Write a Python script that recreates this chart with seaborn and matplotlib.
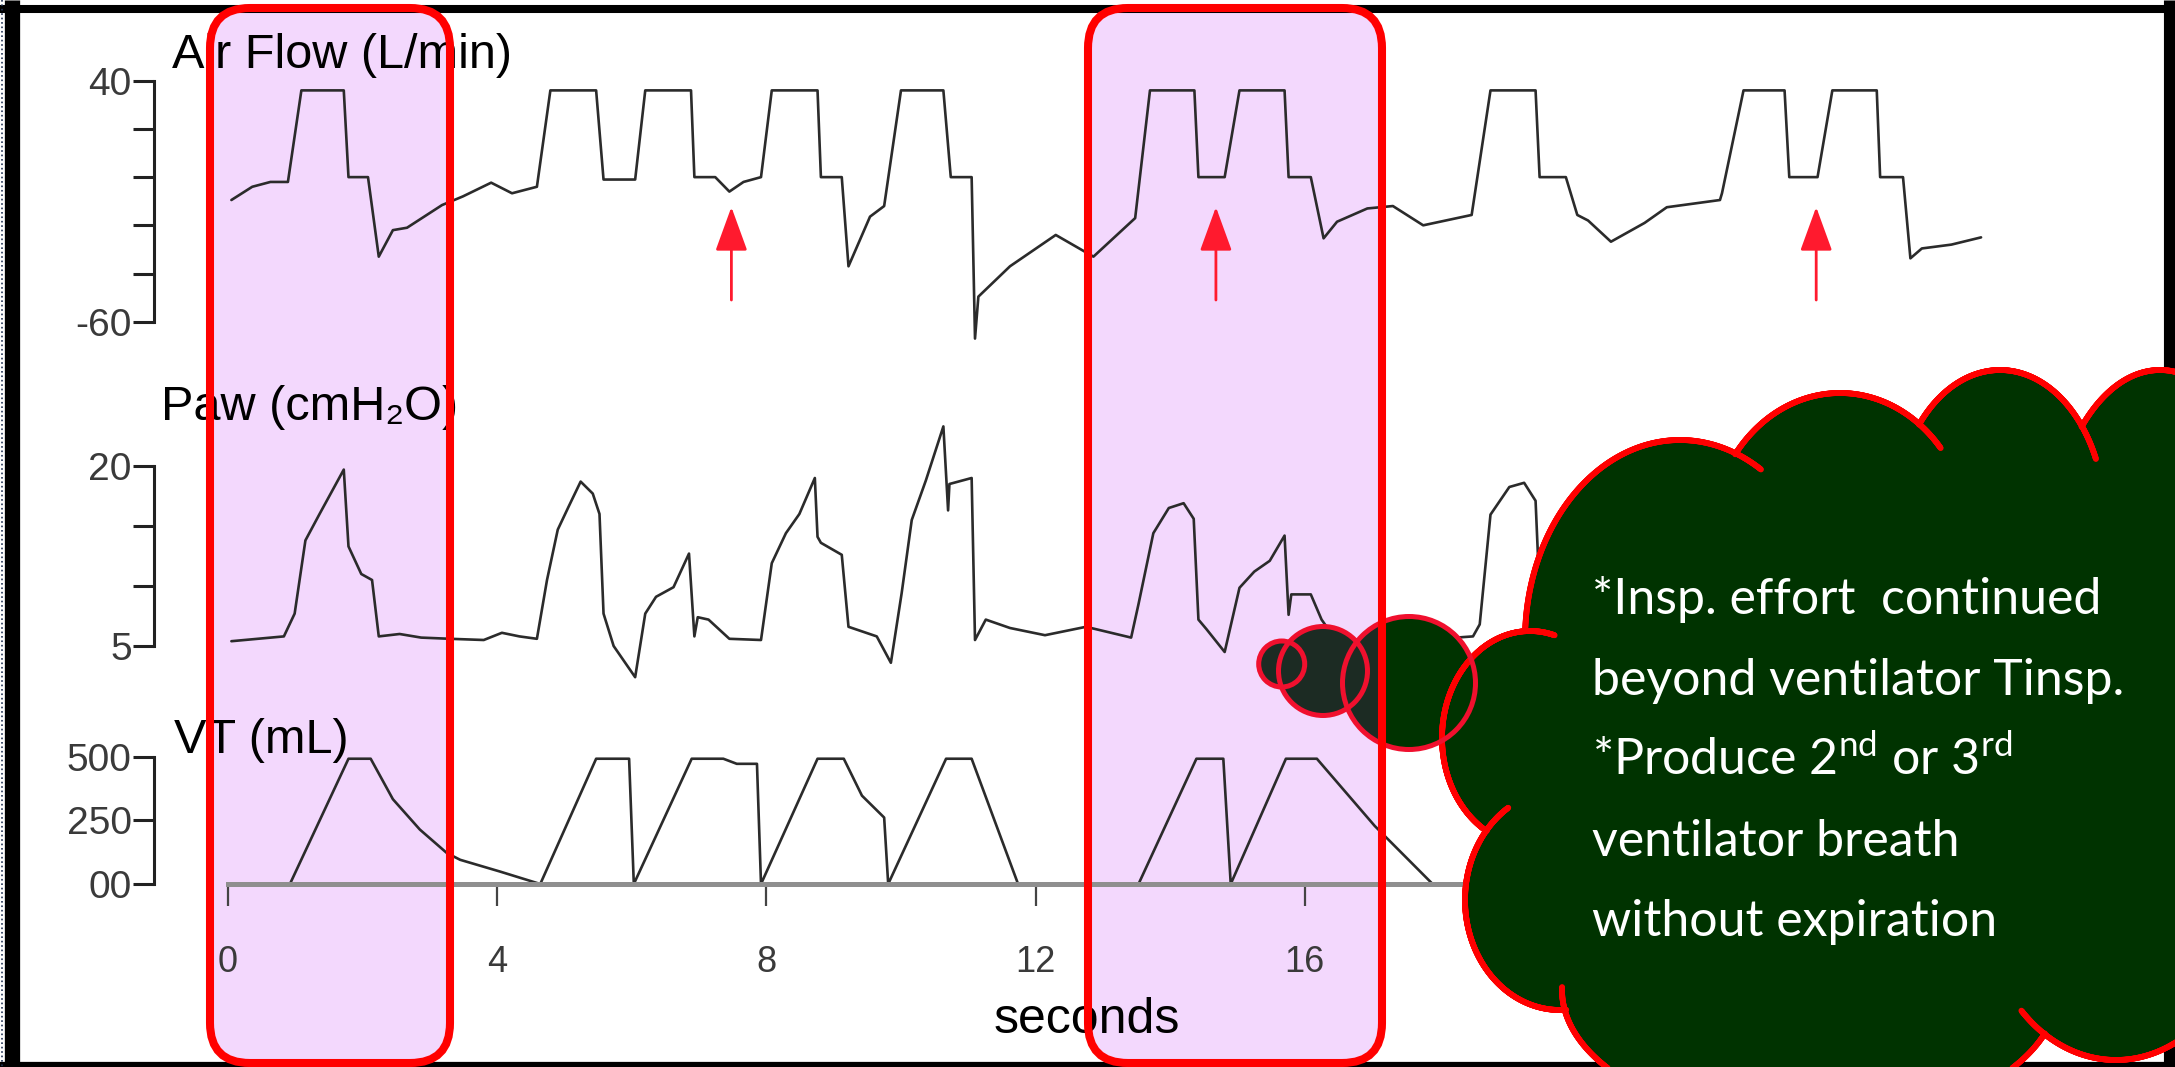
import numpy as np
import matplotlib
matplotlib.use("Agg")
import matplotlib.pyplot as plt
import seaborn as sns
from matplotlib.patches import Ellipse, FancyBboxPatch
from matplotlib.collections import LineCollection

# ventilator waveforms (time in seconds)
flow_t = [0.05, 0.36, 0.63, 0.89, 1.09, 1.72, 1.79, 2.08, 2.24, 2.45, 2.66, 3.18, 3.49, 3.91,
          4.22, 4.59, 4.79, 5.47, 5.58, 6.05, 6.2, 6.88, 6.93, 7.24, 7.45, 7.66, 7.92, 8.08,
          8.76, 8.81, 9.12, 9.22, 9.54, 9.75, 10.0, 10.63, 10.74, 11.05, 11.1, 11.15, 11.62,
          12.3, 12.86, 13.48, 13.7, 14.36, 14.42, 14.81, 15.03, 15.7, 15.76, 16.09, 16.28,
          16.48, 16.93, 17.31, 17.76, 18.48, 18.76, 19.43, 19.49, 19.88, 20.05, 20.21, 20.55,
          21.05, 21.38, 22.17, 22.2, 22.52, 23.13, 23.2, 23.62, 23.84, 24.5, 24.55, 24.89,
          25.0, 25.17, 25.61, 26.05]
flow_v = [-9.5, -4, -2, -2, 36, 36, 0, 0, -33, -22, -21, -11.6, -8, -2.3,
          -6.7, -4, 36, 36, -1, -1, 36, 36, 0, 0, -6, -2, 0, 36,
          36, 0, 0, -37, -16.4, -12, 36, 36, 0, 0, -67, -49.6, -37,
          -24, -33, -17, 36, 36, 0, 0, 36, 36, 0, 0, -25.4,
          -18.5, -13, -12, -20, -15.7, 36, 36, 0, 0, -15.7, -18, -26.8,
          -19, -12.5, -9.5, -6.7, 36, 36, 0, 0, 36, 36, 0, 0,
          -33.7, -29.6, -28, -25]

paw_t = [0.05, 0.83, 0.99, 1.15, 1.36, 1.72, 1.79, 1.98, 2.14, 2.24, 2.55, 2.87, 3.3, 3.8,
         4.07, 4.33, 4.59, 4.74, 4.9, 5.06, 5.24, 5.42, 5.52, 5.58, 5.73, 6.05, 6.2, 6.36,
         6.62, 6.85, 6.93, 6.98, 7.14, 7.45, 7.92, 8.08, 8.29, 8.49, 8.72, 8.76, 8.81, 9.12,
         9.22, 9.64, 9.85, 10.01, 10.16, 10.37, 10.63, 10.7, 10.72, 11.05, 11.1, 11.26,
         11.62, 12.14, 12.75, 13.42, 13.53, 13.75, 13.98, 14.2, 14.35, 14.42, 14.54, 14.81,
         15.03, 15.25, 15.48, 15.7, 15.76, 15.8, 16.09, 16.25, 16.4, 16.6, 17.0, 17.5, 18.0,
         18.5, 18.6, 18.76, 19.04, 19.26, 19.43, 19.5, 19.9, 20.5, 21.5, 22.2, 22.5, 22.9,
         23.2, 23.3, 23.6, 23.9, 24.4, 24.6, 25.0, 26.0]
paw_v = [5.4, 5.8, 7.7, 13.8, 16, 19.7, 13.3, 11, 10.5, 5.8, 6, 5.7, 5.6, 5.5,
         6.1, 5.8, 5.6, 10.5, 14.7, 16.6, 18.7, 17.7, 16, 7.7, 5, 2.4, 7.7, 9.1,
         9.9, 12.7, 5.8, 7.4, 7.2, 5.6, 5.5, 11.9, 14.4, 16, 19, 14.1, 13.6, 12.6,
         6.6, 5.8, 3.6, 9.4, 15.5, 18.8, 23.3, 16.3, 18.5, 19, 5.5, 7.2,
         6.5, 5.9, 6.6, 5.7, 8.5, 14.4, 16.5, 16.9, 15.6, 7.2, 6.4, 4.5,
         9.85, 11.2, 12.1, 14.2, 7.6, 9.3, 9.3, 7.2, 6.0, 5.5, 5.6, 5.8, 5.6,
         5.8, 6.8, 15.95, 18.25, 18.6, 17.1, 8, 6, 5.5, 5.8, 6, 12, 17,
         14, 8, 9, 15, 17, 7, 5.5, 5.6]

vt_t = [0.04, 0.92, 1.79, 2.12, 2.45, 2.85, 3.25, 3.45, 4.04, 4.64, 5.47, 5.96, 6.03, 6.89,
        7.36, 7.56, 7.86, 7.92, 8.76, 9.15, 9.42, 9.75, 9.81, 10.67, 11.05, 11.74, 13.53,
        14.39, 14.79, 14.9, 15.72, 16.18, 17.04, 17.9, 18.7, 19.45, 19.9, 21.0, 22.5, 23.15,
        23.6, 24.5, 24.9, 26.0]
vt_v = [0, 0, 492, 492, 333, 214, 122, 95, 49, 0, 492, 492, 0, 492,
        492, 472, 472, 0, 492, 492, 347, 261, 0, 492, 492, 0, 0,
        492, 492, 0, 492, 492, 228, 0, 0, 492, 492, 0, 0, 492,
        0, 492, 492, 100]

arrow_t = [7.48, 14.68, 23.6]

flow_ticks = [40, 20, 0, -20, -40, -60]
flow_labels = ['40', '', '', '', '', '-60']
paw_ticks = [20, 15, 10, 5]
paw_labels = ['20', '', '', '5']
vt_ticks = [500, 250, 0]
vt_labels = ['500', '250', '00']
x_ticks = [0, 4, 8, 12, 16, 20, 24]

note_lines = ["*Insp. effort  continued",
              "beyond ventilator Tinsp.",
              r"*Produce 2$^{\mathrm{nd}}$ or 3$^{\mathrm{rd}}$",
              "ventilator breath",
              "without expiration"]

sns.set_theme(style='white')
plt.rcParams['font.family'] = ['Liberation Sans', 'DejaVu Sans']
plt.rcParams['mathtext.fontset'] = 'custom'
plt.rcParams['mathtext.rm'] = 'Lato'

W, H = 2175, 1067
fig = plt.figure(figsize=(W / 100, H / 100), dpi=100)


def box(x0, y0, x1, y1):
    # pixel box (origin top-left) -> figure fraction rect
    return [x0 / W, 1 - y1 / H, (x1 - x0) / W, (y1 - y0) / H]


# background layer: highlighted windows
bg = fig.add_axes([0, 0, 1, 1], zorder=0)
bg.set_xlim(0, W)
bg.set_ylim(H, 0)
bg.axis('off')
windows = [(210, 450), (1088, 1382)]
for x0, x1 in windows:
    bg.add_patch(FancyBboxPatch((x0, 8), x1 - x0, 1055,
                                boxstyle='round,pad=0,rounding_size=40',
                                fc='#F3D8FD', ec='none'))

trace_kw = dict(color='#2b2b2b', linewidth=1.9, estimator=None, sort=False)
tick_color = '#3a3a3a'

ax1 = fig.add_axes(box(154, 68.7, 2045, 345.8), zorder=1)
ax2 = fig.add_axes(box(154, 418, 2045, 682), zorder=1)
ax3 = fig.add_axes(box(154, 751.6, 2045, 884), zorder=1)

sns.lineplot(x=flow_t, y=flow_v, ax=ax1, **trace_kw)
sns.lineplot(x=paw_t, y=paw_v, ax=ax2, **trace_kw)
sns.lineplot(x=vt_t, y=vt_v, ax=ax3, **trace_kw)

for ax, lim, ticks, labels in [(ax1, (-70, 45), flow_ticks, flow_labels),
                                (ax2, (2, 24), paw_ticks, paw_labels),
                                (ax3, (0, 520), vt_ticks, vt_labels)]:
    ax.set_facecolor('none')
    ax.set_xlim(-1.1, 27.0)
    ax.set_ylim(*lim)
    ax.set_yticks(ticks)
    ax.set_yticklabels(labels)
    ax.set_xlabel('')
    ax.set_ylabel('')
    for s in ['top', 'right']:
        ax.spines[s].set_visible(False)
    ax.spines['left'].set_bounds(min(ticks), max(ticks))
    ax.spines['left'].set_linewidth(2.2)
    ax.spines['left'].set_color('#222222')
    ax.tick_params(axis='y', direction='out', length=15, width=2.2, color='#222222',
                   pad=1, labelsize=28, labelcolor=tick_color, left=True)

for ax in (ax1, ax2):
    ax.spines['bottom'].set_visible(False)
    ax.tick_params(axis='x', bottom=False, labelbottom=False)

ax3.spines['bottom'].set_bounds(0, 26.2)
ax3.spines['bottom'].set_linewidth(3.6)
ax3.spines['bottom'].set_color('#8f8f8f')
ax3.set_xticks(x_ticks)
ax3.set_xticklabels([str(v) for v in x_ticks])
ax3.tick_params(axis='x', direction='out', length=16, width=1.6, color='#444444',
                pad=28, labelsize=26, labelcolor=tick_color, bottom=True)

for t in arrow_t:
    ax1.annotate('', xy=(t, -12.4), xytext=(t, -51),
                 arrowprops=dict(arrowstyle='-|>,head_length=0.55,head_width=0.2',
                                 mutation_scale=50, color='#FF1A2E', lw=2.0,
                                 shrinkA=0, shrinkB=0))

fig.text(172 / W, 1 - 68 / H, 'Air Flow (L/min)', fontsize=35, va='baseline', color='black')
fig.text(161 / W, 1 - 420 / H, 'Paw (cmH\u2082O)', fontsize=35, va='baseline', color='black')
fig.text(174 / W, 1 - 753 / H, 'VT (mL)', fontsize=35, va='baseline', color='black')
fig.text(1087 / W, 1 - 1033 / H, 'seconds', fontsize=36, ha='center', va='baseline', color='black')

# overlay layer: frame, thought bubbles, cloud, window borders
ov = fig.add_axes([0, 0, 1, 1], zorder=10)
ov.set_xlim(0, W)
ov.set_ylim(H, 0)
ov.axis('off')
ov.patch.set_alpha(0)

ov.plot([12, 12], [0, H], color='black', lw=11, solid_capstyle='butt', zorder=1)
ov.plot([0, W], [9, 9], color='black', lw=5.8, solid_capstyle='butt', zorder=1)
ov.plot([0, W], [1065, 1065], color='black', lw=4.5, solid_capstyle='butt', zorder=1)
ov.plot([2169, 2169], [0, H], color='black', lw=8, solid_capstyle='butt', zorder=1)
ov.plot([1.5, 1.5], [0, H], color='#223355', lw=1.2, ls=':', zorder=1)

dark_green = '#003300'
clip_win = FancyBboxPatch((1088, 8), 294, 1055, boxstyle='round,pad=0,rounding_size=40',
                          transform=ov.transData)
bubbles = [(1281.7, 664, 23), (1323, 671, 44.5), (1409, 683, 66.5)]
for cx, cy, r in bubbles:
    ov.add_patch(Ellipse((cx, cy), 2 * r, 2 * r, fc=dark_green, ec='none', zorder=2))
    inner = Ellipse((cx, cy), 2 * r, 2 * r, fc='#1C2B23', ec='none', zorder=2.1)
    ov.add_patch(inner)
    inner.set_clip_path(clip_win)

# cloud callout: the first 9 lobes carry the red outline, the rest only fill the middle
cloud = [(1680, 640, 310, 400), (1840, 543, 260, 300), (2000, 520, 210, 300),
         (2160, 560, 220, 380), (2260, 820, 220, 340), (2116, 900, 262, 320),
         (1810, 990, 496, 270), (1560, 900, 190, 220), (1530, 738, 176, 214),
         (1800, 720, 500, 500), (2080, 700, 300, 420), (1960, 860, 320, 220)]
outlined = range(9)
for cx, cy, w, h in cloud:
    ov.add_patch(Ellipse((cx, cy), w, h, fc=dark_green, ec='none', zorder=3))

segs = []
n = 1440
th = np.linspace(0, 2 * np.pi, n, endpoint=False)
for i in outlined:
    cx, cy, w, h = cloud[i]
    x = cx + w / 2 * np.cos(th)
    y = cy + h / 2 * np.sin(th)
    vis = np.ones(n, bool)
    for j, (ex, ey, ew, eh) in enumerate(cloud):
        if j != i:
            vis &= ((x - ex) / (ew / 2)) ** 2 + ((y - ey) / (eh / 2)) ** 2 > 0.985
    k = int(32 / (np.pi * (w + h) / 2) * n)
    ext = vis.copy()
    for s in range(1, k + 1):
        ext |= np.roll(vis, s)
    for a in range(n):
        b = (a + 1) % n
        if ext[a] and ext[b]:
            segs.append([(x[a], y[a]), (x[b], y[b])])
ov.add_collection(LineCollection(segs, colors='#FF0000', linewidths=4.2, zorder=4,
                                 capstyle='round'))

for cx, cy, r in bubbles:
    ov.add_patch(Ellipse((cx, cy), 2 * r, 2 * r, fc='none', ec='#F0102E', lw=3.6, zorder=4))

for x0, x1 in windows:
    ov.add_patch(FancyBboxPatch((x0, 8), x1 - x0, 1055,
                                boxstyle='round,pad=0,rounding_size=40',
                                fc='none', ec='#FF0000', lw=5.8, zorder=5))

for i, line in enumerate(note_lines):
    ov.text(1592, 614 + 80.5 * i, line, fontsize=36, family='Lato', color='white',
            va='baseline', ha='left', zorder=6)

fig.savefig('out.png', dpi=100)
